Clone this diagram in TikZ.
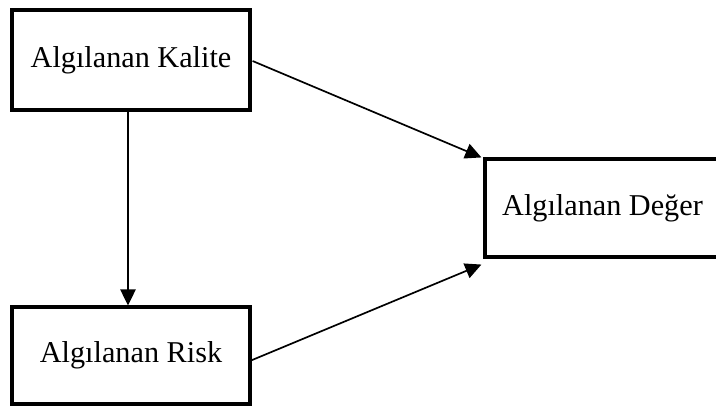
\documentclass[tikz,border=0pt]{standalone}
\usepackage{fontspec}
\setmainfont{Liberation Serif}
\usetikzlibrary{arrows.meta}

\begin{document}
\begin{tikzpicture}[x=0.025cm,y=-0.025cm,
  kasten/.style={draw,line width=2.2pt,inner sep=0pt,font=\fontsize{21.5}{25}\selectfont},
  pfeil/.style={line width=1.2pt,-{Triangle[length=11.5pt,width=11pt]}}]
  \clip (0,0) rectangle (716,406);
  % Kasten
  \node[kasten,minimum width=5.95cm,minimum height=2.5cm] (kalite) at (131,60) {Algılanan Kalite};
  \node[kasten,minimum width=5.95cm,minimum height=2.425cm] (risk) at (131,355.5) {Algılanan Risk};
  \node[kasten,minimum width=5.875cm,minimum height=2.45cm] (deger) at (602.5,208) {Algılanan Değer};
  % Pfeile
  \draw[pfeil] ([shift={(-3,0)}]kalite.south) -- ([shift={(-3,0)}]risk.north);
  \draw[pfeil] ([shift={(1,1)}]kalite.east) -- ([shift={(-2,0)}]deger.north west);
  \draw[pfeil] ([shift={(-3,6)}]risk.east) -- ([shift={(-2,6)}]deger.south west);
\end{tikzpicture}
\end{document}
